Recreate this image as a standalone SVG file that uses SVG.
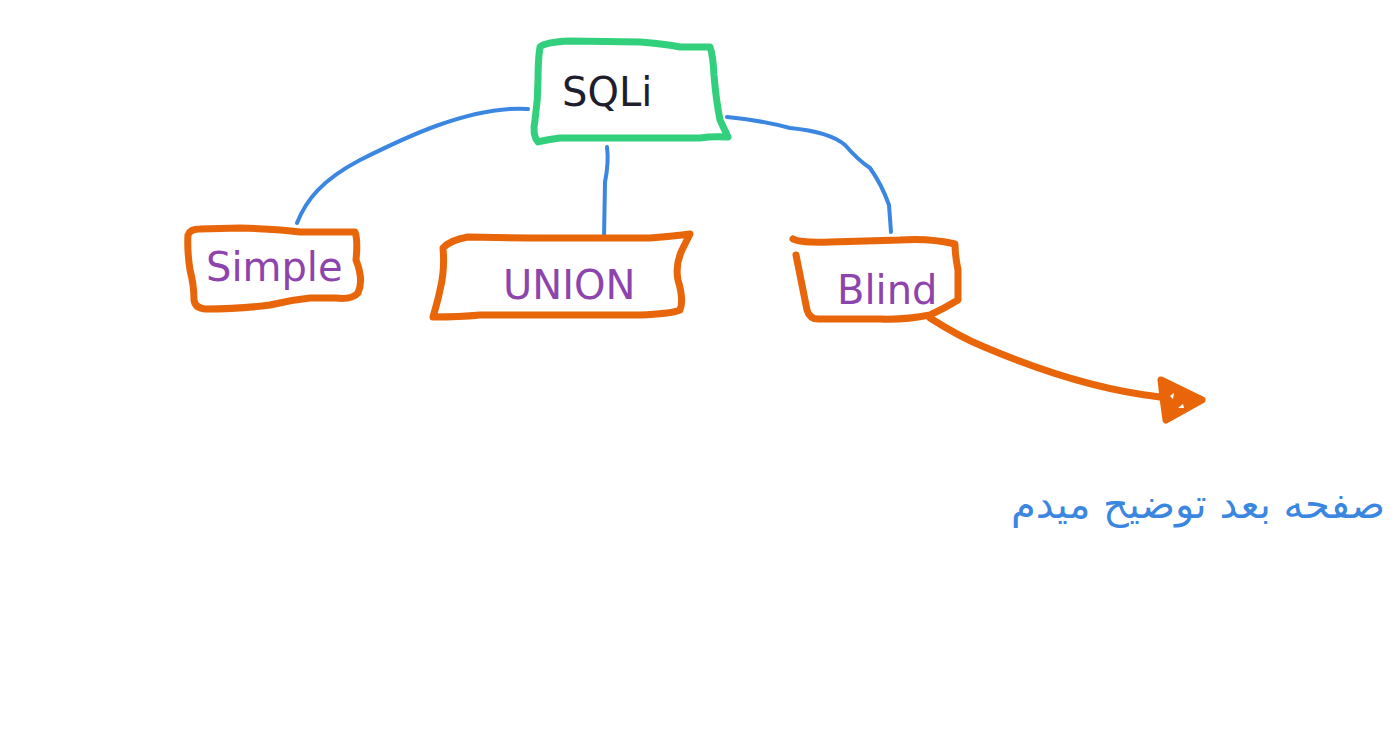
<svg xmlns="http://www.w3.org/2000/svg" width="1397" height="743" viewBox="0 0 1397 743">
<style>
.box{fill:none;stroke-linecap:round;stroke-linejoin:round;stroke-width:7}
.green{stroke:#32d07c}
.orange{stroke:#e8650a}
.conn{fill:none;stroke:#3a86e0;stroke-width:4;stroke-linecap:round;stroke-linejoin:round}
.lbl{font-family:"DejaVu Sans",sans-serif;font-size:40px}
.purple{fill:#8e44ad}
.dark{fill:#1e1e2e}
</style>
<rect width="1397" height="743" fill="#ffffff"/>
<g id="connectors">
<path class="conn" d="M528,109 C 470,105 400,140 360,160 C 322,180 306,200 297,223"/>
<path class="conn" d="M607,147 Q 609,162 605,182 L 604,238"/>
<path class="conn" d="M727,117 Q 760,120 790,128 Q 830,132 845,145 Q 858,160 870,168 Q 882,185 889,205 L 891,232"/>
<path class="box orange" d="M930,318 Q 960,337 982,346 Q 1080,388 1160,397 L 1195,400"/>
<path class="box orange" fill="#e8650a" style="fill:#e8650a" d="M1161,380 L 1202,400 L 1166,420 Q 1163,400 1161,380 Z"/>
<path fill="#ffffff" d="M1170,396 L 1174,393 L 1173,399 Z M1178,408 L 1183,404 L 1184,408 Z"/>
</g>
<g id="sqli">
<path class="box green" d="M540,47 Q 545,42 570,41 L 640,42 Q 665,44 680,47 L 710,47 Q 713,55 714,75 Q 716,100 720,120 L 728,137 Q 712,136 700,138 L 560,138 Q 545,140 538,142 Q 532,135 535,120 Q 538,100 538,80 Q 538,60 540,47 Z"/>
<text class="lbl dark" x="562" y="106">SQLi</text>
</g>
<g id="simple">
<path class="box orange" d="M188,235 Q 190,229 200,229 L 240,228 Q 280,229 300,232 L 355,232 Q 358,240 356,260 Q 364,280 358,293 Q 352,300 335,298 L 310,298 Q 290,300 270,305 Q 240,309 205,309 Q 195,308 194,300 Q 194,285 190,270 Q 187,250 188,235 Z"/>
<text class="lbl purple" x="206" y="281">Simple</text>
</g>
<g id="union">
<path class="box orange" d="M443,248 Q 450,240 468,237 L 530,238 L 650,238 Q 675,236 690,234 L 682,250 Q 675,265 678,280 Q 684,300 680,310 Q 670,314 640,315 L 480,315 Q 460,317 433,317 Q 438,300 440,290 Q 445,270 443,248 Z"/>
<text class="lbl purple" x="503" y="299">UNION</text>
</g>
<g id="blind">
<path class="box orange" d="M793,239 Q 800,243 830,242 L 900,240 Q 930,238 955,244 Q 955,255 958,270 L 958,300 Q 945,308 930,315 Q 905,320 880,319 L 820,319 Q 810,320 807,310 Q 803,290 800,275 Q 798,265 796,255"/>
<text class="lbl purple" x="837" y="304">Blind</text>
</g>
<g id="note">
<text class="lbl" x="1385" y="518" text-anchor="end" fill="#3a86e0">صفحه بعد توضیح میدم</text>
</g>
</svg>
